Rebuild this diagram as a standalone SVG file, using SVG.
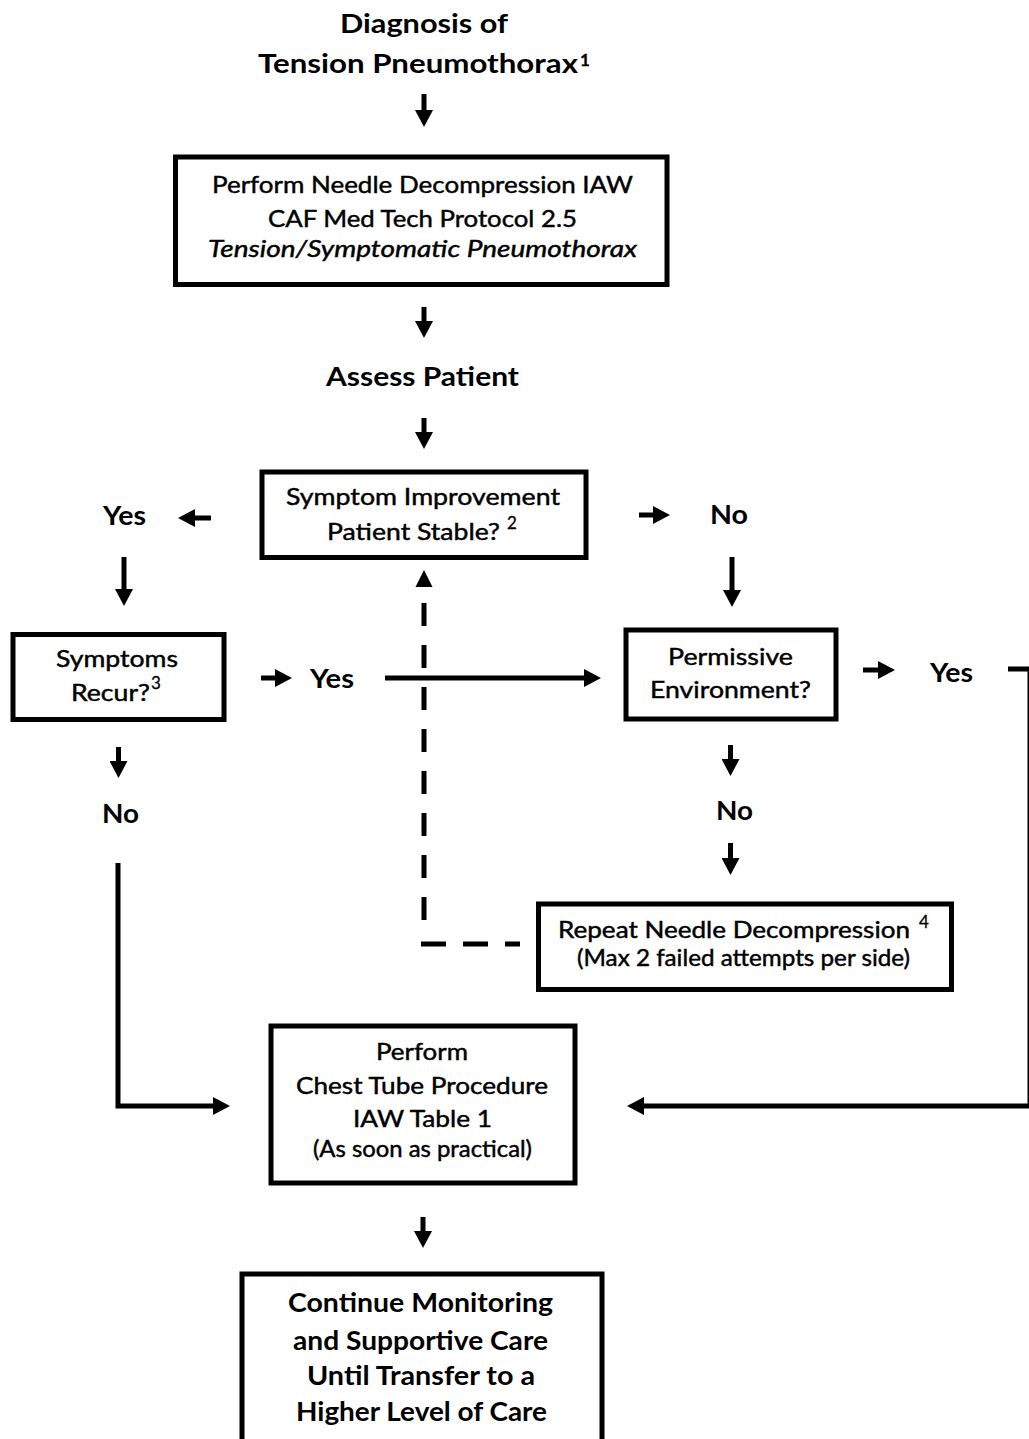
<svg xmlns="http://www.w3.org/2000/svg" width="1029" height="1439" viewBox="0 0 1029 1439">
<style>
.box{fill:#fff;stroke:#000;stroke-width:5}
.ln{fill:none;stroke:#000;stroke-width:5}
.ar{fill:none;stroke:#000;stroke-width:5;marker-end:url(#ah)}
.dash{fill:none;stroke:#000;stroke-width:5}
text{font-family:Lato,"Liberation Sans",sans-serif;fill:#000}
.b{font-weight:bold;font-size:26.5px}
.r{font-size:24px;stroke:#000;stroke-width:0.45px}
.s{font-size:23px;stroke:#000;stroke-width:0.45px}
.sup{font-size:17px;stroke:#000;stroke-width:0.3px}
</style>
<defs>
<marker id="ah" markerUnits="userSpaceOnUse" markerWidth="18" markerHeight="18" viewBox="0 0 18 18" refX="2" refY="9" orient="auto"><path d="M0,0 L17,9 L0,18 z" fill="#000"/></marker>
</defs>
<rect width="1029" height="1439" fill="#fff"/>

<g id="connectors">
<line class="ar" x1="424" y1="94" x2="424" y2="112"/>
<line class="ar" x1="424" y1="307" x2="424" y2="323"/>
<line class="ar" x1="424" y1="418" x2="424" y2="434"/>
<line class="ar" x1="211" y1="518" x2="193" y2="518"/>
<line class="ar" x1="639" y1="515" x2="655" y2="515"/>
<line class="ar" x1="124" y1="557" x2="124" y2="591"/>
<line class="ar" x1="732" y1="557" x2="732" y2="592"/>
<line class="ar" x1="261" y1="678" x2="277" y2="678"/>
<line class="ar" x1="385" y1="678" x2="586" y2="678"/>
<line class="ar" x1="863" y1="670" x2="880" y2="670"/>
<line class="ar" x1="118.5" y1="747" x2="118.5" y2="763"/>
<line class="ar" x1="730.5" y1="745" x2="730.5" y2="761"/>
<line class="ar" x1="730.5" y1="843" x2="730.5" y2="860"/>
<path class="ar" d="M118,863 L118,1106 L215,1106"/>
<path class="ar" d="M1008,669 L1030,669 L1030,1106 L642,1106"/>
<line class="ar" x1="423" y1="1217" x2="423" y2="1233"/>
<line class="dash" x1="424" y1="603" x2="424" y2="920" stroke-dasharray="23 19"/>
<line class="dash" x1="421" y1="944" x2="520" y2="944" stroke-dasharray="25 17"/>
<polygon points="424,570 432.5,587 415.5,587" fill="#000"/>
</g>

<g id="n-title">
<text class="b" x="340" y="33" textLength="168" lengthAdjust="spacingAndGlyphs">Diagnosis of</text>
<text class="b" x="258" y="73" textLength="320" lengthAdjust="spacingAndGlyphs">Tension Pneumothorax</text>
<text class="sup" font-weight="bold" font-size="19" x="580" y="66">1</text>
</g>

<g id="n-needle">
<rect class="box" x="175.5" y="157" width="491.5" height="127.5"/>
<text class="r" font-size="25" x="212" y="193" textLength="421" lengthAdjust="spacingAndGlyphs">Perform Needle Decompression IAW</text>
<text class="r" font-size="25" x="268" y="227" textLength="309" lengthAdjust="spacingAndGlyphs">CAF Med Tech Protocol 2.5</text>
<text class="r" font-size="25" font-style="italic" x="208" y="257" textLength="429" lengthAdjust="spacingAndGlyphs">Tension/Symptomatic Pneumothorax</text>
</g>

<g id="n-assess">
<text class="b" x="326" y="386" textLength="193" lengthAdjust="spacingAndGlyphs">Assess Patient</text>
</g>

<g id="n-improve">
<rect class="box" x="262" y="472" width="324" height="85.5"/>
<text class="r" x="286" y="505" textLength="274" lengthAdjust="spacingAndGlyphs">Symptom Improvement</text>
<text class="r" x="327" y="540" textLength="173" lengthAdjust="spacingAndGlyphs">Patient Stable?</text>
<text class="sup" x="507" y="529">2</text>
</g>

<g id="l-yes1"><text class="b" x="103" y="525" textLength="43" lengthAdjust="spacingAndGlyphs">Yes</text></g>
<g id="l-no1"><text class="b" x="710" y="524" textLength="38" lengthAdjust="spacingAndGlyphs">No</text></g>

<g id="n-recur">
<rect class="box" x="13" y="634.5" width="211" height="85"/>
<text class="s" x="56" y="667" textLength="122" lengthAdjust="spacingAndGlyphs">Symptoms</text>
<text class="s" x="71" y="701" textLength="79" lengthAdjust="spacingAndGlyphs">Recur?</text>
<text class="sup" font-size="16" x="151" y="689">3</text>
</g>

<g id="l-yes2"><text class="b" x="310" y="688" textLength="44" lengthAdjust="spacingAndGlyphs">Yes</text></g>

<g id="n-permissive">
<rect class="box" x="626" y="630" width="210" height="89"/>
<text class="r" font-size="25" x="668" y="665" textLength="125" lengthAdjust="spacingAndGlyphs">Permissive</text>
<text class="r" font-size="25" x="650" y="698" textLength="161" lengthAdjust="spacingAndGlyphs">Environment?</text>
</g>

<g id="l-yes3"><text class="b" x="930" y="682" textLength="43" lengthAdjust="spacingAndGlyphs">Yes</text></g>
<g id="l-no2"><text class="b" x="102" y="823" textLength="37" lengthAdjust="spacingAndGlyphs">No</text></g>
<g id="l-no3"><text class="b" x="716" y="820" textLength="37" lengthAdjust="spacingAndGlyphs">No</text></g>

<g id="n-repeat">
<rect class="box" x="538.5" y="904" width="413" height="85.5"/>
<text class="s" x="558" y="938" textLength="352" lengthAdjust="spacingAndGlyphs">Repeat Needle Decompression</text>
<text class="sup" font-size="16" x="919" y="928">4</text>
<text class="s" x="577" y="966" textLength="333" lengthAdjust="spacingAndGlyphs">(Max 2 failed attempts per side)</text>
</g>

<g id="n-chest">
<rect class="box" x="271" y="1026" width="304" height="157"/>
<text class="s" x="376" y="1060" textLength="92" lengthAdjust="spacingAndGlyphs">Perform</text>
<text class="s" x="296" y="1094" textLength="252" lengthAdjust="spacingAndGlyphs">Chest Tube Procedure</text>
<text class="s" x="353" y="1127" textLength="139" lengthAdjust="spacingAndGlyphs">IAW Table 1</text>
<text class="s" x="313" y="1157" textLength="219" lengthAdjust="spacingAndGlyphs">(As soon as practical)</text>
</g>

<g id="n-continue">
<rect class="box" x="242" y="1274" width="360" height="200"/>
<text class="b" font-size="26" x="288" y="1312" textLength="265" lengthAdjust="spacingAndGlyphs">Continue Monitoring</text>
<text class="b" font-size="26" x="293" y="1350" textLength="255" lengthAdjust="spacingAndGlyphs">and Supportive Care</text>
<text class="b" font-size="26" x="307" y="1385" textLength="228" lengthAdjust="spacingAndGlyphs">Until Transfer to a</text>
<text class="b" font-size="26" x="296" y="1421" textLength="251" lengthAdjust="spacingAndGlyphs">Higher Level of Care</text>
</g>
</svg>
